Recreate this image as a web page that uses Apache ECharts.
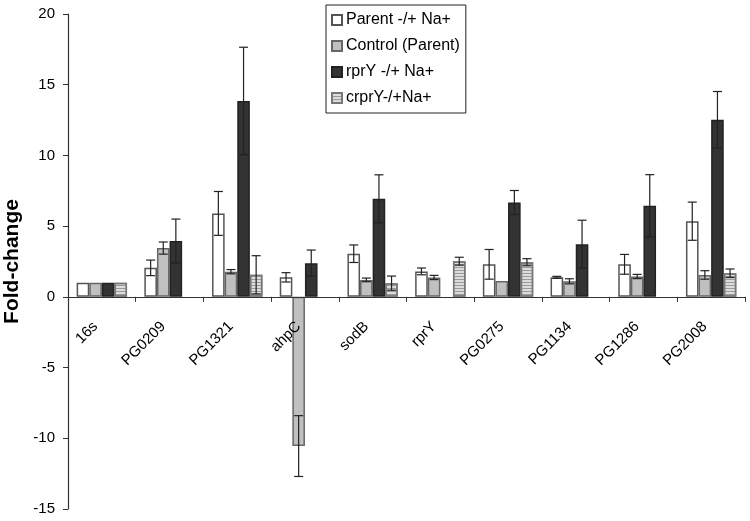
<!DOCTYPE html>
<html>
<head>
<meta charset="utf-8">
<script src="https://cdn.jsdelivr.net/npm/echarts@6/dist/echarts.min.js"></script>
<style>html,body{margin:0;padding:0;background:#fff}#c{width:750px;height:521px}</style>
</head>
<body>
<div id="c"></div>
<script>
var categories = ['16s','PG0209','PG1321','ahpC','sodB','rprY','PG0275','PG1134','PG1286','PG2008'];
var seriesNames = ['Parent -/+ Na+','Control (Parent)','rprY -/+ Na+','crprY-/+Na+'];
var parentVals  = [1, 2.05, 5.9, 1.38, 3.05, 1.8, 2.3, 1.38, 2.3, 5.35];
var parentErr   = [0, 0.55, 1.55, 0.33, 0.62, 0.24, 1.05, 0.07, 0.7, 1.35];
var controlVals = [1, 3.45, 1.78, -10.55, 1.2, 1.37, 1.13, 1.1, 1.44, 1.55];
var controlErr  = [0, 0.43, 0.15, 2.15, 0.13, 0.15, 0, 0.18, 0.15, 0.3];
var rpryVals    = [1, 3.95, 13.85, 2.38, 6.93, null, 6.67, 3.72, 6.44, 12.52];
var rpryErr     = [0, 1.55, 3.8, 0.93, 1.7, 0, 0.85, 1.7, 2.2, 2.0];
var crpryVals   = [1, null, 1.56, null, 0.97, 2.52, 2.45, null, null, 1.67];
var crpryErr    = [0, 0, 1.35, 0, 0.5, 0.28, 0.25, 0, 0, 0.3];
var yTicks = {min: -15, max: 20, interval: 5};

var FONT = 'Liberation Sans, Arial, sans-serif';
var BAR_W = 12.6;
var GRID = {left: 68, right: 5, top: 14, bottom: 12};
var gridH = 521 - GRID.top - GRID.bottom;
var zeroOffset = -gridH * (0 - yTicks.min) / (yTicks.max - yTicks.min);

var valsList = [parentVals, controlVals, rpryVals, crpryVals];
var errList = [parentErr, controlErr, rpryErr, crpryErr];
var styles = [
  {color: '#ffffff', borderColor: '#555', borderWidth: 1.5},
  {color: '#c0c0c0', borderColor: '#666', borderWidth: 1.5},
  {color: '#333333', borderColor: '#222', borderWidth: 1.5},
  {color: '#dcdcdc', borderColor: '#777', borderWidth: 1.5,
   decal: {symbol: 'rect', symbolSize: 1, dashArrayX: [1, 0], dashArrayY: [1, 2], color: '#9a9a9a', rotation: 0}}
];

var series = [];
seriesNames.forEach(function (name, i) {
  series.push({
    name: name, type: 'bar', barWidth: BAR_W, barGap: '0%',
    data: valsList[i].map(function (v) { return v == null ? '-' : v; }),
    itemStyle: styles[i], emphasis: {disabled: true}, z: 2
  });
});
seriesNames.forEach(function (name, i) {
  var d = [];
  valsList[i].forEach(function (v, k) {
    if (v != null && errList[i][k] > 0) d.push([k, v, errList[i][k]]);
  });
  series.push({
    type: 'custom', z: 5, silent: true,
    data: d,
    renderItem: function (params, api) {
      var idx = api.value(0), v = api.value(1), e = api.value(2);
      var off = (i - 1.5) * BAR_W;
      var top = api.coord([idx, v + e]);
      var bot = api.coord([idx, v - e]);
      var x = top[0] + off;
      var cw = 4.5;
      var st = {stroke: '#222', lineWidth: 1.2};
      return {type: 'group', children: [
        {type: 'line', shape: {x1: x, y1: top[1], x2: x, y2: bot[1]}, style: st},
        {type: 'line', shape: {x1: x - cw, y1: top[1], x2: x + cw, y2: top[1]}, style: st},
        {type: 'line', shape: {x1: x - cw, y1: bot[1], x2: x + cw, y2: bot[1]}, style: st}
      ]};
    }
  });
});

var chart = echarts.init(document.getElementById('c'), null, {renderer: 'canvas'});
chart.setOption({
  animation: false,
  backgroundColor: '#fff',
  textStyle: {fontFamily: FONT},
  grid: {left: GRID.left, right: GRID.right, top: GRID.top, bottom: GRID.bottom, containLabel: false, outerBoundsMode: 'none'},
  legend: {
    data: seriesNames, orient: 'vertical', left: 326, top: 5,
    itemWidth: 10, itemHeight: 10, itemGap: 10,
    padding: [7, 6, 7, 5],
    borderColor: '#222', borderWidth: 1, backgroundColor: '#fff',
    icon: 'rect',
    textStyle: {fontSize: 16, fontFamily: FONT, color: '#000', padding: [0, 0, 0, -1]}
  },
  xAxis: {
    type: 'category', data: categories, position: 'bottom', offset: zeroOffset, z: 4,
    axisLine: {onZero: false, lineStyle: {color: '#333', width: 1.2}},
    axisTick: {show: true, length: 5, lineStyle: {color: '#333'}},
    axisLabel: {rotate: 45, fontSize: 15, color: '#000', margin: 21, padding: [0, 9, 0, 0], fontFamily: FONT, interval: 0},
    splitLine: {show: false}
  },
  yAxis: {
    type: 'value', min: yTicks.min, max: yTicks.max, interval: yTicks.interval,
    name: 'Fold-change', nameLocation: 'middle', nameGap: 43, nameRotate: 90,
    nameTextStyle: {fontSize: 21, fontWeight: 'bold', color: '#000', fontFamily: FONT},
    axisLine: {show: true, lineStyle: {color: '#333', width: 1.2}},
    axisTick: {show: true, length: 5, lineStyle: {color: '#333'}},
    axisLabel: {fontSize: 15, color: '#000', margin: 13, fontFamily: FONT},
    splitLine: {show: false}
  },
  series: series
});
</script>
</body>
</html>
